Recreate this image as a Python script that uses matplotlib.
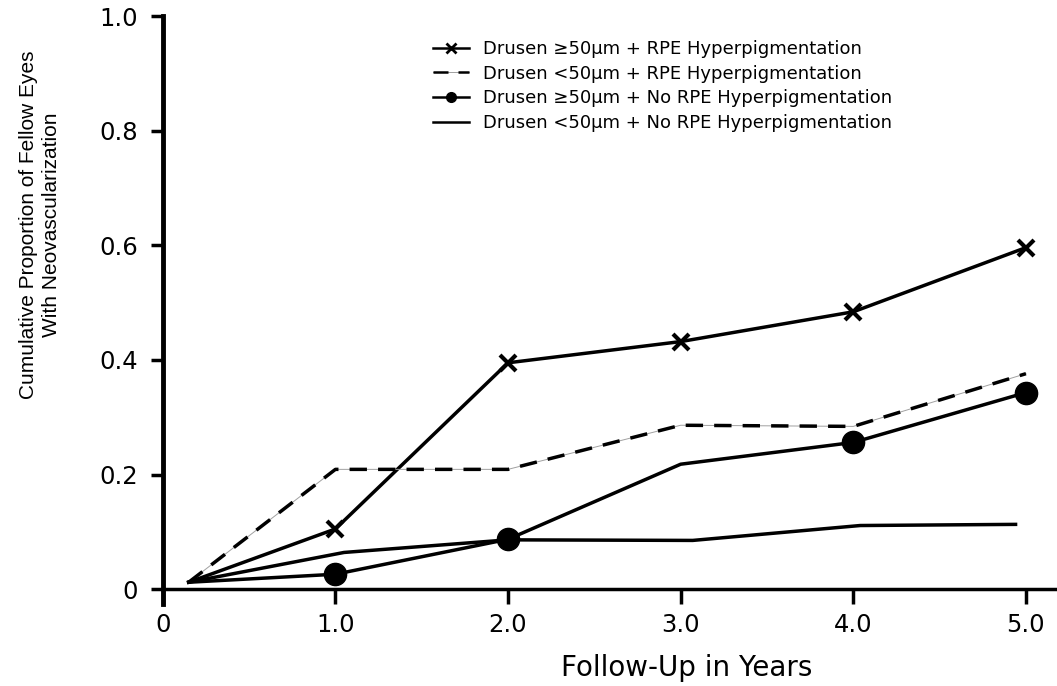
import matplotlib.pyplot as plt
from matplotlib.lines import Line2D
from matplotlib.legend_handler import HandlerTuple

# data
x_start = 0.15
y_start = 0.012
years = [1.0, 2.0, 3.0, 4.0, 5.0]
big_rpe = [0.105, 0.395, 0.432, 0.484, 0.596]
small_rpe = [0.209, 0.209, 0.286, 0.284, 0.376]
big_norpe = [0.026, 0.087, 0.218, 0.256, 0.343]
small_norpe_x = [1.05, 2.0, 3.07, 4.04, 4.94]
small_norpe = [0.064, 0.086, 0.085, 0.111, 0.113]

x_ticks = [0, 1, 2, 3, 4, 5]
x_tick_labels = ['0', '1.0', '2.0', '3.0', '4.0', '5.0']
y_ticks = [0, 0.2, 0.4, 0.6, 0.8, 1.0]
y_tick_labels = ['0', '0.2', '0.4', '0.6', '0.8', '1.0']

labels = ['Drusen \u226550\u00b5m + RPE Hyperpigmentation',
          'Drusen <50\u00b5m + RPE Hyperpigmentation',
          'Drusen \u226550\u00b5m + No RPE Hyperpigmentation',
          'Drusen <50\u00b5m + No RPE Hyperpigmentation']

plt.rcParams['font.family'] = ['DejaVu Sans']

fig = plt.figure(figsize=(10.57, 6.86), dpi=100)
ax = fig.add_axes([0.154, 0.1195, 0.846, 0.857])

lw = 2.5
# series 1: crosses
ax.plot([x_start] + years, [y_start] + big_rpe, color='black', lw=lw,
        marker='x', markersize=12, markeredgewidth=3, markevery=list(range(1, 6)))
# series 2: thin grey line under thick dashes
ax.plot([x_start] + years, [y_start] + small_rpe, color='#a0a0a0', lw=0.7)
ax.plot([x_start] + years, [y_start] + small_rpe, color='black', lw=lw,
        linestyle=(0, (5, 3.2)))
# series 3: dots (no dot at 3.0)
ax.plot([x_start] + years, [y_start] + big_norpe, color='black', lw=lw)
ax.plot([1.0, 2.0, 4.0, 5.0], [big_norpe[0], big_norpe[1], big_norpe[3], big_norpe[4]],
        linestyle='none', marker='o', markersize=16, color='black')
# series 4: plain line
ax.plot([x_start] + small_norpe_x, [y_start] + small_norpe, color='black', lw=lw)

ax.set_xlim(0, 5.18)
ax.set_ylim(-0.026, 1.0)
ax.spines['top'].set_visible(False)
ax.spines['right'].set_visible(False)
ax.spines['bottom'].set_position(('data', 0))
ax.spines['left'].set_linewidth(3.5)
ax.spines['bottom'].set_linewidth(2.5)
ax.set_xticks(x_ticks)
ax.set_xticklabels(x_tick_labels)
ax.set_yticks(y_ticks)
ax.set_yticklabels(y_tick_labels)
ax.tick_params(axis='x', length=11, width=2.5, pad=6, labelsize=17.5)
ax.tick_params(axis='y', length=9, width=2.5, pad=9, labelsize=17.5)
ax.patch.set_visible(False)

fig.text(40 / 1057, 1 - 225 / 686,
         'Cumulative Proportion of Fellow Eyes\nWith Neovascularization',
         rotation=90, ha='center', va='center', ma='center',
         fontsize=15, family='Liberation Sans', linespacing=1.25)
fig.text(687 / 1057, 1 - 668 / 686, 'Follow-Up in Years',
         ha='center', va='center', fontsize=20)

# legend with smaller markers
h1 = Line2D([], [], color='black', lw=1.8, marker='x', markersize=7, markeredgewidth=2)
h2a = Line2D([], [], color='#a0a0a0', lw=0.7)
h2b = Line2D([], [], color='black', lw=1.8, linestyle=(0, (6, 4)))
h3 = Line2D([], [], color='black', lw=1.8, marker='o', markersize=7)
h4 = Line2D([], [], color='black', lw=1.8)
ax.legend([h1, (h2a, h2b), h3, h4], labels,
          handler_map={tuple: HandlerTuple(ndivide=1)},
          loc='upper left', bbox_to_anchor=(433 / 1057, 1 - 40 / 686),
          bbox_transform=fig.transFigure, frameon=False, fontsize=13,
          handlelength=2.0, handletextpad=0.75, labelspacing=0.37, borderaxespad=0,
          borderpad=0)

fig.savefig('out.png', dpi=100)
